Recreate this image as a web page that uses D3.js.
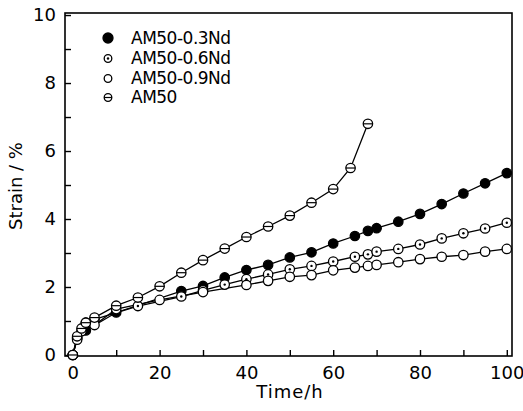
<!DOCTYPE html>
<html>
<head>
<meta charset="utf-8">
<script src="https://cdn.jsdelivr.net/npm/d3@7"></script>
<style>
  body { margin: 0; background: #fff; }
  text { font-family: "DejaVu Sans", sans-serif; fill: #000; }
</style>
</head>
<body>
<div id="chart"></div>
<script>
var svgWidth = 523;
var svgHeight = 411;

// time (h) and strain (%)
var nd03Time   = [0, 1, 3, 10, 25, 30, 35, 40, 45, 50, 55, 60, 65, 68, 70, 75, 80, 85, 90, 95, 100];
var nd03Strain = [0, 0.5, 0.72, 1.25, 1.88, 2.03, 2.28, 2.5, 2.65, 2.87, 3.02, 3.28, 3.5, 3.65, 3.73, 3.92, 4.15, 4.44, 4.75, 5.05, 5.35];

var nd06Time   = [0, 1, 3, 5, 15, 25, 30, 35, 40, 45, 50, 55, 60, 65, 68, 70, 75, 80, 85, 90, 95, 100];
var nd06Strain = [0, 0.5, 0.95, 1.05, 1.44, 1.72, 1.9, 2.07, 2.23, 2.37, 2.52, 2.62, 2.75, 2.89, 2.96, 3.04, 3.12, 3.25, 3.43, 3.58, 3.72, 3.89];

var nd09Time   = [0, 1, 2, 5, 10, 20, 30, 40, 45, 50, 55, 60, 65, 68, 70, 75, 80, 85, 90, 95, 100];
var nd09Strain = [0, 0.45, 0.7, 0.88, 1.35, 1.62, 1.85, 2.06, 2.18, 2.3, 2.35, 2.49, 2.57, 2.62, 2.65, 2.73, 2.82, 2.89, 2.94, 3.04, 3.12];

var am50Time   = [0, 1, 2, 3, 5, 10, 15, 20, 25, 30, 35, 40, 45, 50, 55, 60, 64, 68];
var am50Strain = [0, 0.55, 0.78, 0.95, 1.1, 1.45, 1.69, 2.02, 2.42, 2.79, 3.13, 3.47, 3.78, 4.1, 4.48, 4.88, 5.5, 6.8];

var seriesNames = ["AM50-0.3Nd", "AM50-0.6Nd", "AM50-0.9Nd", "AM50"];
var markerKinds = ["filled", "dotted", "open", "barred"];

var xTicks = [0, 10, 20, 30, 40, 50, 60, 70, 80, 90, 100];
var yTicks = [0, 1, 2, 3, 4, 5, 6, 7, 8, 9, 10];

var series = [
  { name: seriesNames[0], kind: markerKinds[0], t: nd03Time, s: nd03Strain },
  { name: seriesNames[1], kind: markerKinds[1], t: nd06Time, s: nd06Strain },
  { name: seriesNames[2], kind: markerKinds[2], t: nd09Time, s: nd09Strain },
  { name: seriesNames[3], kind: markerKinds[3], t: am50Time, s: am50Strain }
];

var svg = d3.select("#chart").append("svg")
    .attr("width", svgWidth)
    .attr("height", svgHeight);

var xScale = d3.scaleLinear().domain([-1.8, 101.2]).range([65, 512]);
var yScale = d3.scaleLinear().domain([-0.03, 10.06]).range([356, 13]);

// frame
svg.append("rect")
    .attr("x", xScale.range()[0])
    .attr("y", yScale.range()[1])
    .attr("width", xScale.range()[1] - xScale.range()[0])
    .attr("height", yScale.range()[0] - yScale.range()[1])
    .attr("fill", "none")
    .attr("stroke", "#000")
    .attr("stroke-width", 1.6);

var bottomAxis = d3.axisBottom(xScale)
    .tickValues(xTicks)
    .tickSize(-6)
    .tickPadding(10)
    .tickFormat(d => d % 20 === 0 ? d : "");

var leftAxis = d3.axisLeft(yScale)
    .tickValues(yTicks)
    .tickSize(-6)
    .tickPadding(9)
    .tickFormat(d => d % 2 === 0 ? d : "");

var gx = svg.append("g")
    .attr("transform", "translate(0," + yScale.range()[0] + ")")
    .call(bottomAxis);
var gy = svg.append("g")
    .attr("transform", "translate(" + xScale.range()[0] + ",0)")
    .call(leftAxis);

[gx, gy].forEach(function(g) {
  g.select(".domain").remove();
  g.selectAll(".tick line").attr("stroke", "#000").attr("stroke-width", 1.4);
  g.selectAll(".tick text").style("font-size", "18px").style("font-family", "DejaVu Sans");
});

svg.append("text")
    .attr("x", 290)
    .attr("y", 398)
    .attr("text-anchor", "middle")
    .style("font-size", "18px")
    .style("letter-spacing", "1px")
    .text("Time/h");

svg.append("text")
    .attr("transform", "translate(22,186) rotate(-90)")
    .attr("text-anchor", "middle")
    .style("font-size", "18px")
    .text("Strain / %");

var line = d3.line()
    .x(d => xScale(d[0]))
    .y(d => yScale(d[1]));

function drawMarker(g, kind, cx, cy, r) {
  g.append("circle")
      .attr("cx", cx).attr("cy", cy).attr("r", r)
      .attr("fill", kind === "filled" ? "#000" : "#fff")
      .attr("stroke", "#000")
      .attr("stroke-width", 1.3);
  if (kind === "dotted") {
    g.append("circle").attr("cx", cx).attr("cy", cy).attr("r", 1.2).attr("fill", "#000");
  }
  if (kind === "barred") {
    g.append("line")
        .attr("x1", cx - r).attr("x2", cx + r)
        .attr("y1", cy).attr("y2", cy)
        .attr("stroke", "#000").attr("stroke-width", 1.2);
  }
}

series.forEach(function(sr) {
  var pts = sr.t.map((t, i) => [t, sr.s[i]]);
  svg.append("path")
      .datum(pts)
      .attr("d", line)
      .attr("fill", "none")
      .attr("stroke", "#000")
      .attr("stroke-width", 1.3);
});

series.forEach(function(sr) {
  var g = svg.append("g");
  sr.t.forEach(function(t, i) {
    drawMarker(g, sr.kind, xScale(t), yScale(sr.s[i]), 4.7);
  });
});

// legend
var legendY = [38, 58.5, 78.5, 97.5];
series.forEach(function(sr, i) {
  var g = svg.append("g");
  drawMarker(g, sr.kind, 108, legendY[i], i === 0 ? 5 : 3.8);
  g.append("text")
      .attr("x", 131)
      .attr("y", legendY[i])
      .attr("dy", "0.35em")
      .style("font-size", "17px")
      .style("letter-spacing", "-0.5px")
      .text(sr.name);
});
</script>
</body>
</html>
